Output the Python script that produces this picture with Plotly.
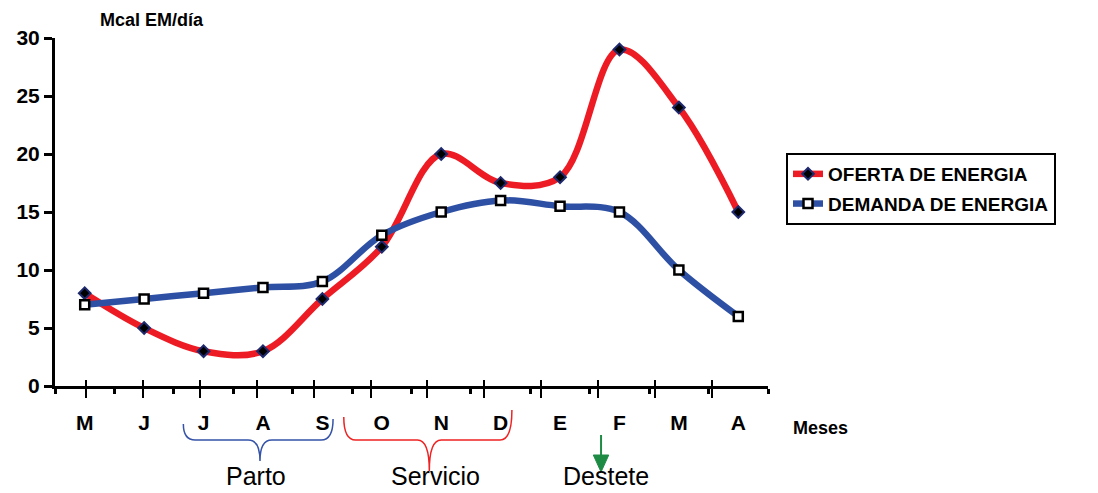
import plotly.graph_objects as go

# ---- data ----
meses = ["M", "J", "J", "A", "S", "O", "N", "D", "E", "F", "M", "A"]
oferta = [8, 5, 3, 3, 7.5, 12, 20, 17.5, 18, 29, 24, 15]
demanda = [7, 7.5, 8, 8.5, 9, 13, 15, 16, 15.5, 15, 10, 6]
y_ticks = [0, 5, 10, 15, 20, 25, 30]
periodos = ["Parto", "Servicio", "Destete"]

FONT = "Arial, 'Liberation Sans', sans-serif"
RED = "#ED1C24"
BLUE = "#2E50A4"
idx = list(range(len(meses)))

OFF = 8  # default page body margin
W, H = 1098 - OFF, 493 - OFF
PL, PR, PT, PB = 55, 768, 38, 386  # plot area in page pixels
L, T = PL - OFF, PT - OFF
R = W - (PR - OFF)
B = H - (PB - OFF)

fig = go.Figure()
fig.add_trace(go.Scatter(
    x=idx, y=oferta, name="OFERTA DE ENERGIA", mode="lines+markers",
    line=dict(color=RED, width=6.5, shape="spline", smoothing=1.0),
    marker=dict(symbol="diamond", size=9, color="black",
                line=dict(color="#1F2A6E", width=2)),
    legendgroup="a", cliponaxis=False))
fig.add_trace(go.Scatter(
    x=idx, y=demanda, name="DEMANDA DE ENERGIA", mode="lines+markers",
    line=dict(color=BLUE, width=6.5, shape="spline", smoothing=1.0),
    marker=dict(symbol="square", size=9, color="white",
                line=dict(color="black", width=2.5)),
    legendgroup="b", cliponaxis=False))

plot_w = PR - PL
plot_h = PB - PT
def py(pix):
    """page pixel row -> paper y"""
    return (PB - pix) / plot_h
def px(pix):
    """page pixel column -> paper x"""
    return (pix - PL) / plot_w

fig.update_layout(
    width=W, height=H,
    margin=dict(l=L, r=R, t=T, b=B, autoexpand=False),
    paper_bgcolor="white", plot_bgcolor="white",
    font=dict(family=FONT, color="black"),
    showlegend=True,
    legend=dict(x=px(786), y=py(153), xanchor="left", yanchor="top",
                bordercolor="black", borderwidth=2,
                font=dict(family=FONT, size=19, color="black", weight="bold"),
                tracegroupgap=2, traceorder="grouped"),
    xaxis=dict(range=[-0.5, 11.5], tickmode="array", tickvals=idx, ticktext=meses,
               showline=True, linecolor="black", linewidth=3,
               ticks="", showgrid=False, zeroline=False,
               tickfont=dict(family=FONT, size=21, weight="bold"),
               ticklabelstandoff=16,
               minor=dict(tickmode="linear", tick0=-0.5, dtick=1, ticks="outside",
                          ticklen=5, tickwidth=3, tickcolor="black", showgrid=False)),
    xaxis2=dict(overlaying="x", anchor="y", side="bottom", range=[-0.545, 11.986],
                tickmode="array", tickvals=idx, showticklabels=False,
                ticks="outside", ticklen=11, tickwidth=1.5, tickcolor="black",
                showline=False, showgrid=False, zeroline=False),
    xaxis3=dict(overlaying="x", anchor="y", side="bottom", range=[-0.545, 11.986],
                tickmode="array", tickvals=idx, showticklabels=False,
                ticks="inside", ticklen=6, tickwidth=1.5, tickcolor="black",
                showline=False, showgrid=False, zeroline=False),
    yaxis=dict(range=[0, 30], tickmode="array", tickvals=y_ticks,
               showline=True, linecolor="black", linewidth=3,
               ticks="outside", ticklen=8, tickwidth=3, tickcolor="black",
               showgrid=False, zeroline=False,
               tickfont=dict(family=FONT, size=21, weight="bold")),
)

# invisible traces to activate overlay axes
fig.add_trace(go.Scatter(x=[0], y=[0], xaxis="x2", mode="markers",
                         marker=dict(opacity=0), showlegend=False, hoverinfo="skip"))
fig.add_trace(go.Scatter(x=[0], y=[0], xaxis="x3", mode="markers",
                         marker=dict(opacity=0), showlegend=False, hoverinfo="skip"))

# y axis title and x axis title
fig.add_annotation(text="Mcal EM/día", xref="paper", yref="paper",
                   x=px(152), y=py(20), showarrow=False,
                   xanchor="center", yanchor="middle",
                   font=dict(family=FONT, size=18, weight="bold"))
fig.add_annotation(text="Meses", xref="paper", yref="paper",
                   x=px(820), y=py(428), showarrow=False,
                   xanchor="center", yanchor="middle",
                   font=dict(family=FONT, size=18, weight="bold"))

# braces
def brace(x0, xm, x1, ytop0, ytop1, ybar, ytip, color):
    c = 0.2
    p = (f"M {x0},{py(ytop0)} Q {x0},{py(ybar)} {x0 + c},{py(ybar)} "
         f"L {xm - c},{py(ybar)} Q {xm},{py(ybar)} {xm},{py(ytip)} "
         f"Q {xm},{py(ybar)} {xm + c},{py(ybar)} "
         f"L {x1 - c},{py(ybar)} Q {x1},{py(ybar)} {x1},{py(ytop1)}")
    fig.add_shape(type="path", path=p, xref="x", yref="paper",
                  line=dict(color=color, width=1.5))

brace(1.66, 2.95, 4.18, 424, 419, 440, 461, "#3553A8")
brace(4.36, 5.80, 7.19, 417, 410, 440, 471, "#EE2222")

# destete arrow
ax_x = 8.69
fig.add_shape(type="line", xref="x", yref="paper", x0=ax_x, x1=ax_x,
              y0=py(435), y1=py(458), line=dict(color="#1E8B45", width=2))
fig.add_shape(type="path", xref="x", yref="paper",
              path=f"M {ax_x - 0.13},{py(455)} L {ax_x + 0.13},{py(455)} L {ax_x},{py(472)} Z",
              fillcolor="#1E8B45", line=dict(color="#1E8B45", width=1))

# period labels
for txt, xc in zip(periodos, [2.88, 5.91, 8.78]):
    fig.add_annotation(text=txt, xref="x", yref="paper", x=xc, y=py(476),
                       xanchor="center", yanchor="middle", showarrow=False,
                       font=dict(family=FONT, size=25, color="black"))

fig.write_html("out.html")
